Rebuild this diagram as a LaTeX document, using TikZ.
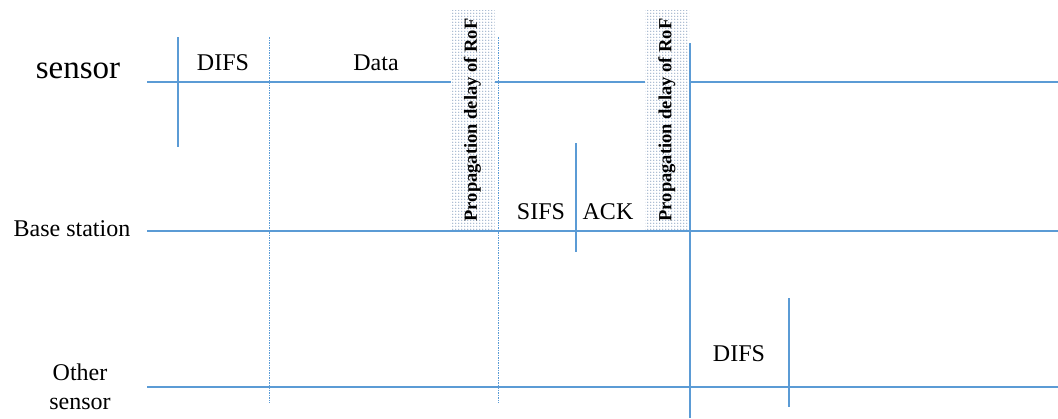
\documentclass[tikz,border=0pt]{standalone}
\usepackage{fontspec}
\setmainfont{Liberation Serif}
\usetikzlibrary{patterns}
\pgfdeclarepatternformonly{bigdots}{\pgfqpoint{-1pt}{-1pt}}{\pgfqpoint{2pt}{2pt}}{\pgfqpoint{3pt}{3pt}}{\pgfpathcircle{\pgfqpoint{0pt}{0pt}}{0.8pt}\pgfusepath{fill}}
\definecolor{lineblue}{HTML}{5B9BD5}
\definecolor{dotblue}{HTML}{8EA6C4}
\tikzset{
  timeline/.style={draw=lineblue, line width=1.1pt},
  mark line/.style={draw=lineblue, line width=1.1pt},
  guide line/.style={draw=lineblue, line width=0.8pt, dash pattern=on 1.5pt off 1pt},
  lbl/.style={font=\fontsize{24}{26}\selectfont, inner sep=0pt, text=black},
  proplbl/.style={rotate=90, minimum width=220pt, minimum height=44pt, inner sep=0pt,
    font=\bfseries\fontsize{18.5}{20}\selectfont,
    preaction={fill=white}, pattern=bigdots, pattern color=dotblue},
}
\begin{document}
\begin{tikzpicture}[x=1pt,y=-1pt]
\useasboundingbox (0,0) rectangle (1058,418);
% timelines
\coordinate (s0) at (147,82);  \coordinate (s1) at (1058,82);
\coordinate (b0) at (147,231); \coordinate (b1) at (1058,231);
\coordinate (o0) at (147,387); \coordinate (o1) at (1058,387);
\draw[timeline] (s0) -- (s1);
\draw[timeline] (b0) -- (b1);
\draw[timeline] (o0) -- (o1);
% row labels
\node[font=\fontsize{33}{35}\selectfont, inner sep=0pt] (sensor) at (78,71) {sensor};
\node[lbl] (base) at (72,229) {Base station};
\node[lbl, align=center, font=\fontsize{24}{29}\selectfont] (other) at (80,387) {Other\\sensor};
% vertical markers
\coordinate (v1t) at (178,37);  \coordinate (v1b) at (178,147);
\draw[mark line] (v1t) -- (v1b);
\coordinate (g1t) at (269,37);  \coordinate (g1b) at (269,403);
\draw[guide line] (g1t) -- (g1b);
\coordinate (g2t) at (498,37);  \coordinate (g2b) at (498,403);
\draw[guide line] (g2t) -- (g2b);
\coordinate (v2t) at (576,143); \coordinate (v2b) at (576,252);
\draw[mark line] (v2t) -- (v2b);
\coordinate (v3t) at (690,43);  \coordinate (v3b) at (690,418);
\draw[mark line] (v3t) -- (v3b);
\coordinate (v4t) at (789,298); \coordinate (v4b) at (789,407);
\draw[mark line] (v4t) -- (v4b);
% propagation boxes
\node[proplbl] (prop1) at (472.5,120) {Propagation delay of RoF};
\node[proplbl] (prop2) at (667,120) {Propagation delay of RoF};
% interval labels
\node[lbl] (difs1) at (223,63) {DIFS};
\node[lbl] (data) at (376,63) {Data};
\node[lbl] (sifs) at (541,212) {SIFS};
\node[lbl] (ack) at (608,212) {ACK};
\node[lbl] (difs2) at (739,354) {DIFS};
\end{tikzpicture}
\end{document}
